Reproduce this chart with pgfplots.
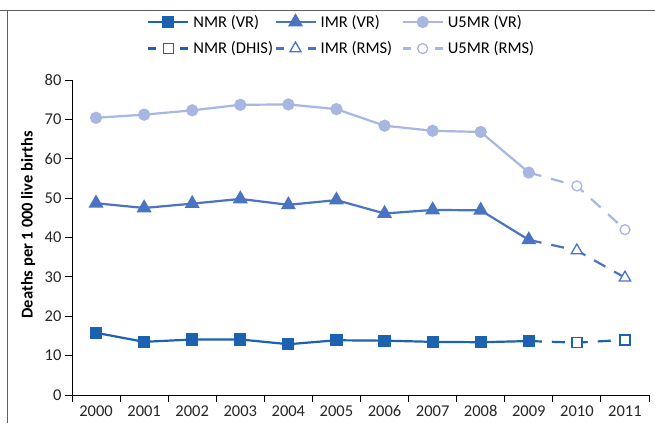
\documentclass[border=0pt]{standalone}
\usepackage{fontspec}
\setmainfont{Carlito}
\usepackage{pgfplots}
\pgfplotsset{compat=1.18}
\definecolor{cN}{HTML}{1C62B0}
\definecolor{cI}{HTML}{4A74C2}
\definecolor{cU}{HTML}{A8B6E2}
\definecolor{frame}{HTML}{606060}
\newcommand{\legtext}[1]{\makebox[77pt][l]{#1}}
\begin{document}
\begin{tikzpicture}
\path[use as bounding box] (0pt,0pt) rectangle (655pt,423pt);
\draw[frame,line width=1pt] (0pt,412pt) -- (655pt,412pt);
\draw[frame,line width=1pt] (7pt,412pt) -- (7pt,0pt);
\begin{axis}[
  at={(72pt,28pt)}, anchor=south west,
  scale only axis, width=577pt, height=315pt,
  xmin=-0.5, xmax=11.5, ymin=0, ymax=80,
  axis lines*=left,
  axis line style={line width=0.9pt, black},
  xtick={-0.5,0.5,...,11.5},
  x tick label as interval,
  xticklabels={2000,2001,2002,2003,2004,2005,2006,2007,2008,2009,2010,2011},
  ytick={0,10,...,80},
  tick align=outside,
  major tick length=7pt,
  tick style={line width=0.9pt, black},
  /pgf/number format/assume math mode=true,
  tick label style={font=\fontsize{16.5}{19}\selectfont, text=black!85},
  ylabel={\bfseries Deaths per 1 000 live births},
  ylabel style={at={(axis description cs:-0.076,0.54)}, anchor=center, font=\fontsize{16.5}{19}\selectfont},
  clip=false,
  legend columns=3,
  legend style={at={(0.1248,1.219)}, anchor=north west, draw=none, fill=none,
     font=\fontsize{16.5}{19}\selectfont, row sep=9pt, column sep=0pt,
     nodes={inner xsep=4pt}},
  legend cell align=left,
  legend image code/.code={\draw[#1] (0pt,0pt) -- (40pt,0pt); \draw[#1,mark indices={1}] plot coordinates {(20pt,0pt)};},
]
% VR series
\addplot[cN, line width=2.2pt, mark=square*, mark size=5pt, mark options={solid}]
coordinates {(0,15.8) (1,13.5) (2,14.1) (3,14.1) (4,12.9) (5,13.9) (6,13.8) (7,13.5) (8,13.4) (9,13.7)};
\addlegendentry{\legtext{NMR (VR)}}
\addplot[cI, line width=2.2pt, mark=triangle*, mark size=6.5pt, mark options={solid}]
coordinates {(0,48.7) (1,47.5) (2,48.6) (3,49.8) (4,48.3) (5,49.5) (6,46.1) (7,47.0) (8,46.9) (9,39.4)};
\addlegendentry{\legtext{IMR (VR)}}
\addplot[cU, line width=2.2pt, mark=*, mark size=5pt, mark options={solid}]
coordinates {(0,70.4) (1,71.2) (2,72.3) (3,73.7) (4,73.8) (5,72.6) (6,68.4) (7,67.1) (8,66.8) (9,56.5)};
\addlegendentry{\legtext{U5MR (VR)}}
% survey series
\addplot[cN, line width=2.2pt, dash pattern=on 13pt off 10pt, mark=square*, mark size=5pt, mark options={solid, fill=white, line width=1.3pt}, mark indices={2,3},
  legend image post style={dash pattern=on 8pt off 24pt on 8pt}]
coordinates {(9,13.7) (10,13.3) (11,14.0)};
\addlegendentry{\legtext{NMR (DHIS)}}
\addplot[cI, line width=2.2pt, dash pattern=on 13pt off 10pt, mark=triangle*, mark size=6.5pt, mark options={solid, fill=white, line width=1.3pt}, mark indices={2,3},
  legend image post style={dash pattern=on 8pt off 24pt on 8pt}]
coordinates {(9,39.4) (10,36.7) (11,29.8)};
\addlegendentry{\legtext{IMR (RMS)}}
\addplot[cU, line width=2.2pt, dash pattern=on 13pt off 10pt, mark=*, mark size=5pt, mark options={solid, fill=white, line width=1.3pt}, mark indices={2,3},
  legend image post style={dash pattern=on 8pt off 24pt on 8pt}]
coordinates {(9,56.5) (10,53.1) (11,42.0)};
\addlegendentry{\legtext{U5MR (RMS)}}
\end{axis}
\end{tikzpicture}
\end{document}
